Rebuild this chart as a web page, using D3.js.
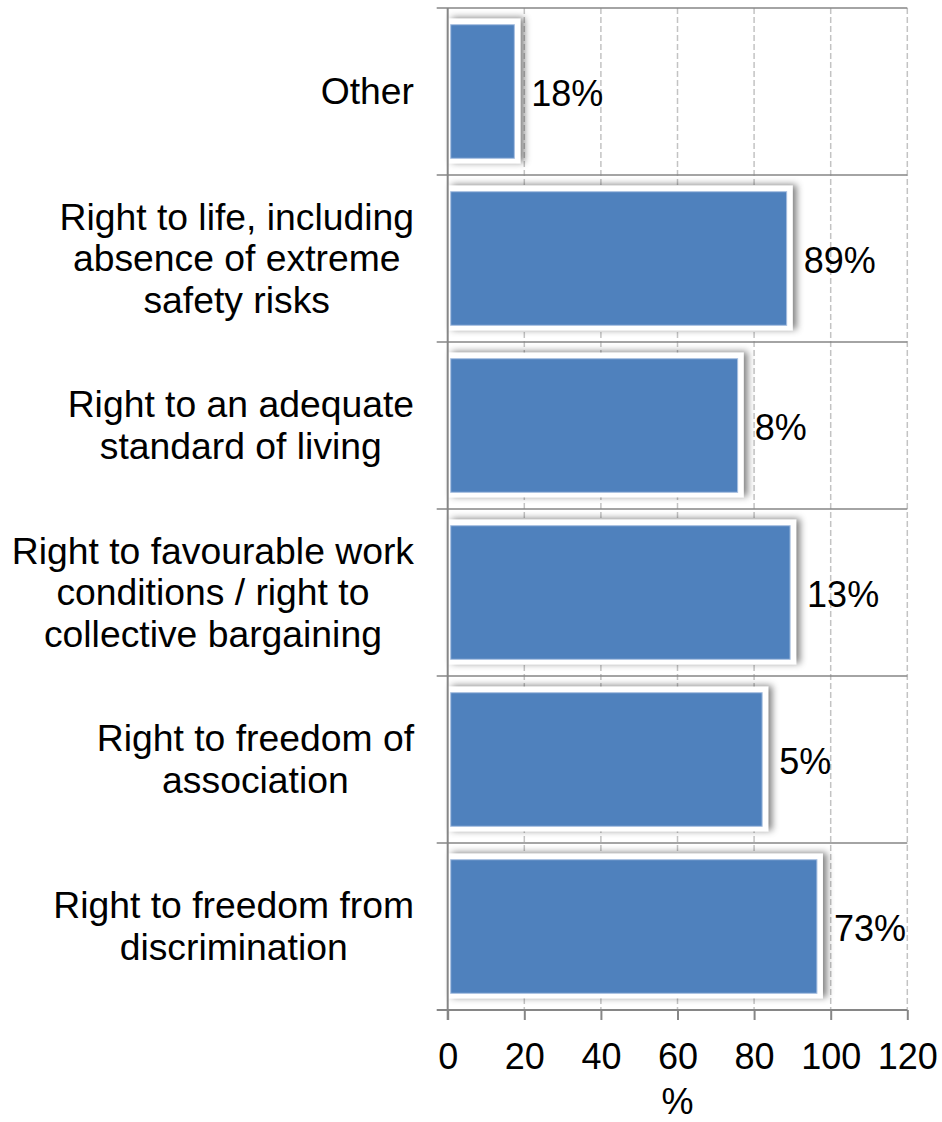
<!DOCTYPE html>
<html>
<head>
<meta charset="utf-8">
<script src="https://cdn.jsdelivr.net/npm/d3@7"></script>
<style>
  html, body { margin: 0; padding: 0; background: #fff; }
  svg { display: block; font-family: "Liberation Sans", Arial, sans-serif; }
</style>
</head>
<body>
<svg id="chart" width="942" height="1122"></svg>
<script>
// Categories, top to bottom; "\n" marks a line break in the axis label.
const categories = [
  "Other",
  "Right to life, including\nabsence of extreme\nsafety risks",
  "Right to an adequate\nstandard of living",
  "Right to favourable work\nconditions / right to\ncollective bargaining",
  "Right to freedom of\nassociation",
  "Right to freedom from\ndiscrimination"
];
// Bar lengths (%)
const values = [17.4, 88.5, 75.7, 89.4, 82.1, 96.4];
// Text printed beside each bar
const valueLabels = ["18%", "89%", "8%", "13%", "5%", "73%"];
// X axis ticks
const xTicks = [0, 20, 40, 60, 80, 100, 120];
const xTitle = "%";

const svg = d3.select("#chart");
const fontSize = 36;
const catFontSize = 37.3;
const lineGap = 41.5;
const gridColor = "#c3c3c3";
const axisColor = "#868686";
const barColor = "#4f81bd";

const x = d3.scaleLinear().domain([0, 120]).range([447.7, 907.3]);
const y = d3.scaleBand().domain(categories).range([8, 1010]).padding(0);
const barH = y.bandwidth() * 0.8;
const barOff = (y.bandwidth() - barH) / 2;

// soft shadow behind each bar frame
const defs = svg.append("defs");
const f = defs.append("filter").attr("id", "shadow")
  .attr("x", "-10%").attr("y", "-30%").attr("width", "130%").attr("height", "160%");
f.append("feGaussianBlur").attr("in", "SourceAlpha").attr("stdDeviation", 3.5).attr("result", "blur");
f.append("feOffset").attr("in", "blur").attr("dx", 4).attr("dy", -1).attr("result", "off");
f.append("feFlood").attr("flood-color", "#000").attr("flood-opacity", 0.5);
f.append("feComposite").attr("in2", "off").attr("operator", "in").attr("result", "sh");
const fm = f.append("feMerge");
fm.append("feMergeNode").attr("in", "sh");
fm.append("feMergeNode").attr("in", "SourceGraphic");

// vertical dashed gridlines
svg.append("g").selectAll("line")
  .data(xTicks.filter(t => t > 0))
  .join("line")
  .attr("x1", d => x(d)).attr("x2", d => x(d))
  .attr("y1", y.range()[0]).attr("y2", y.range()[1])
  .attr("stroke", gridColor).attr("stroke-width", 1.5)
  .attr("stroke-dasharray", "6,3");

// horizontal separators between categories (also the left tick marks)
const bounds = categories.map(c => y(c));
svg.append("g").selectAll("line")
  .data(bounds)
  .join("line")
  .attr("x1", x(0) - 11).attr("x2", x(120))
  .attr("y1", d => d).attr("y2", d => d)
  .attr("stroke", axisColor).attr("stroke-width", 1.6);

// bars: white frame with shadow, blue fill inside
const bars = svg.append("g").selectAll("g")
  .data(categories.map((c, i) => ({ c, v: values[i], label: valueLabels[i] })))
  .join("g");

bars.append("rect")
  .attr("x", x(0))
  .attr("y", d => y(d.c) + barOff - 6)
  .attr("width", d => x(d.v) - x(0) + 6)
  .attr("height", barH + 11)
  .attr("fill", "#fff")
  .attr("filter", "url(#shadow)");

bars.append("rect")
  .attr("x", x(0) + 3)
  .attr("y", d => y(d.c) + barOff)
  .attr("width", d => x(d.v) - x(0) - 3)
  .attr("height", barH)
  .attr("fill", barColor)
  .attr("stroke", "#a7bfe0").attr("stroke-width", 1);

bars.append("text")
  .attr("x", d => x(d.v) + 17)
  .attr("y", d => y(d.c) + y.bandwidth() / 2)
  .attr("dy", "0.4em")
  .attr("font-size", fontSize)
  .attr("fill", "#000")
  .text(d => d.label);

// y axis line
svg.append("line")
  .attr("x1", x(0)).attr("x2", x(0))
  .attr("y1", y.range()[0]).attr("y2", y.range()[1] + 10)
  .attr("stroke", axisColor).attr("stroke-width", 2);

// x axis
const xAxis = svg.append("g")
  .attr("transform", `translate(0,${y.range()[1]})`)
  .call(d3.axisBottom(x).tickValues(xTicks).tickSize(10).tickPadding(0).tickFormat(d3.format("d")));
xAxis.select(".domain").attr("stroke", axisColor).attr("stroke-width", 2).attr("d", `M${x(0) - 11},0H${x(120)}`);
xAxis.selectAll(".tick line").attr("stroke", axisColor).attr("stroke-width", 2);
xAxis.selectAll(".tick text")
  .attr("font-size", fontSize).attr("font-family", "Liberation Sans, Arial, sans-serif")
  .attr("fill", "#000").attr("dy", null).attr("y", 59);

svg.append("text")
  .attr("x", (x(0) + x(120)) / 2).attr("y", 1114)
  .attr("text-anchor", "middle")
  .attr("font-size", fontSize).attr("fill", "#000")
  .text(xTitle);

// category labels: block right-aligned next to the axis, lines centered inside it
const labelRight = 414;
categories.forEach(c => {
  const lines = c.split("\n");
  const cy = y(c) + y.bandwidth() / 2;
  const g = svg.append("g");
  const texts = lines.map((ln, i) => g.append("text")
    .attr("y", cy + (i - (lines.length - 1) / 2) * lineGap + 12.5)
    .attr("font-size", catFontSize).attr("fill", "#000")
    .attr("text-anchor", "middle")
    .text(ln));
  const maxW = d3.max(texts, t => t.node().getComputedTextLength());
  texts.forEach(t => t.attr("x", labelRight - maxW / 2));
});
</script>
</body>
</html>
